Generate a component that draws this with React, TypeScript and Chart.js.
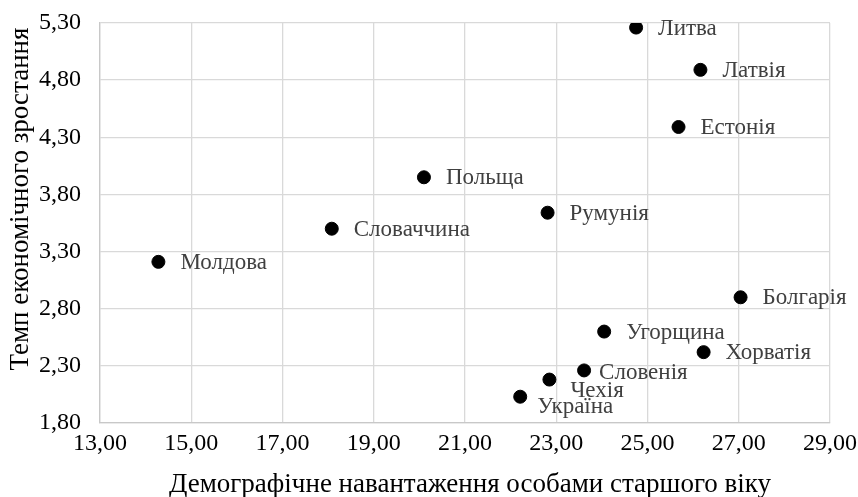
import React, { useEffect, useRef } from "react";
import { Chart, registerables } from "chart.js";

Chart.register(...registerables);

const countries = ["Литва", "Латвія", "Естонія", "Польща", "Румунія", "Словаччина", "Молдова", "Болгарія", "Угорщина", "Хорватія", "Словенія", "Чехія", "Україна"];
const oldAgeLoad = [24.75, 26.16, 25.68, 20.1, 22.81, 18.08, 14.28, 27.04, 24.05, 26.23, 23.61, 22.85, 22.21];
const growthRate = [5.26, 4.89, 4.39, 3.95, 3.64, 3.5, 3.21, 2.9, 2.6, 2.42, 2.26, 2.18, 2.03];
const labelPlacement = ["right", "right", "right", "right", "right", "right", "right", "right", "right", "right", "near", "below", "belowNear"];

const xTicks = [13, 15, 17, 19, 21, 23, 25, 27, 29];
const yTicks = [1.8, 2.3, 2.8, 3.3, 3.8, 4.3, 4.8, 5.3];

const xTitle = "Демографічне навантаження особами старшого віку";
const yTitle = "Темп економічного зростання";

const FONT = "'Liberation Serif', 'Times New Roman', serif";

const labelPlugin = {
  id: "pointLabels",
  afterDatasetsDraw(chart: any) {
    const meta = chart.getDatasetMeta(0);
    const ctx = chart.ctx;
    ctx.save();
    ctx.font = `23px ${FONT}`;
    ctx.fillStyle = "#404040";
    ctx.textBaseline = "middle";
    ctx.textAlign = "left";
    meta.data.forEach((el: any, i: number) => {
      const p = labelPlacement[i];
      let dx = 22, dy = 1;
      if (p === "near") { dx = 15; dy = 3; }
      if (p === "below") { dx = 21; dy = 11; }
      if (p === "belowNear") { dx = 17; dy = 10; }
      ctx.fillText(countries[i], el.x + dx, el.y + dy);
    });
    ctx.restore();
  },
};

const titlePlugin = {
  id: "axisTitles",
  afterDraw(chart: any) {
    const ctx = chart.ctx;
    const area = chart.chartArea;
    ctx.save();
    ctx.font = `27px ${FONT}`;
    ctx.fillStyle = "#000";
    ctx.textAlign = "center";
    ctx.textBaseline = "alphabetic";
    ctx.fillText(xTitle, (area.left + area.right) / 2 + 5, 492);
    ctx.translate(28, 199);
    ctx.rotate(-Math.PI / 2);
    ctx.fillText(yTitle, 0, 0);
    ctx.restore();
  },
};

const fmt = (v: any) => Number(v).toFixed(2).replace(".", ",");

export default function App() {
  const ref = useRef<HTMLCanvasElement | null>(null);
  useEffect(() => {
    if (!ref.current) return;
    const chart = new Chart(ref.current, {
      type: "scatter",
      data: {
        datasets: [
          {
            data: oldAgeLoad.map((x, i) => ({ x, y: growthRate[i] })),
            backgroundColor: "#000",
            borderColor: "#000",
            pointRadius: 6.5,
            pointHoverRadius: 6.5,
          },
        ],
      },
      options: {
        animation: false,
        responsive: false,
        layout: { padding: { top: 23, right: 28, left: 0, bottom: 0 } },
        plugins: { legend: { display: false }, tooltip: { enabled: false } },
        scales: {
          x: {
            type: "linear",
            min: 13,
            max: 29,
            afterBuildTicks: (s: any) => {
              s.ticks = xTicks.map((v) => ({ value: v }));
            },
            afterFit: (s: any) => {
              s.height = 74;
              s.paddingLeft = 0;
              s.paddingRight = 0;
            },
            grid: { color: "#d9d9d9", lineWidth: 1.3, drawTicks: false },
            border: { color: "#c8c8c8", width: 1.3 },
            ticks: {
              color: "#000",
              font: { family: FONT, size: 24 },
              padding: 6,
              callback: fmt,
            },
          },
          y: {
            type: "linear",
            min: 1.8,
            max: 5.3,
            afterBuildTicks: (s: any) => {
              s.ticks = yTicks.map((v) => ({ value: v }));
            },
            afterFit: (s: any) => {
              s.width = 100;
              s.paddingTop = 0;
              s.paddingBottom = 0;
            },
            grid: { color: "#d9d9d9", lineWidth: 1.3, drawTicks: false },
            border: { color: "#c8c8c8", width: 1.3 },
            ticks: {
              color: "#000",
              font: { family: FONT, size: 24 },
              padding: 19,
              callback: fmt,
            },
          },
        },
      },
      plugins: [labelPlugin, titlePlugin],
    });
    return () => chart.destroy();
  }, []);
  return (
    <div style={{ position: "fixed", left: 0, top: 0, width: 858, height: 497, background: "#fff" }}>
      <canvas ref={ref} width={858} height={497} />
    </div>
  );
}
